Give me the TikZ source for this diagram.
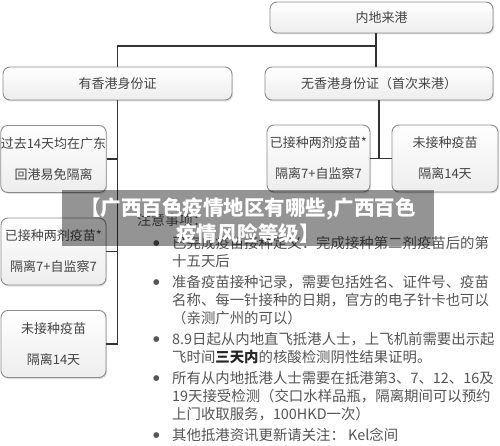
\documentclass[tikz,border=0pt]{standalone}
\usepackage{fontspec}
\usepackage{xcolor}
\usepackage{tikz}
\usetikzlibrary{positioning, shadows}
\newfontfamily\cjk{Noto Sans CJK SC}
\newfontfamily\dotfont{DejaVu Sans}
\definecolor{boxline}{HTML}{8C8C8C}
\definecolor{boxtext}{HTML}{444444}
\definecolor{notetext}{HTML}{555555}
\newcommand{\notedot}{\makebox[19pt][l]{\raisebox{3pt}{\dotfont\fontsize{7.5}{18}\selectfont ●}}}

\begin{document}
\begin{tikzpicture}[
                x=1pt, y=-1pt,
                box/.style={
                        draw=boxline,
                        line width=0.9pt,
                        rounded corners=7pt,
                        top color=white,
                        bottom color=gray!14,
                        drop shadow={shadow xshift=1pt, shadow yshift=-1.5pt, opacity=0.25},
                        text=boxtext,
                        align=center,
                        inner sep=0pt,
                        font=\cjk\fontsize{13}{31}\selectfont
                    },
                small/.style={box, minimum width=105pt, minimum height=67pt},
                link/.style={draw=black!80, line width=1.1pt}
            ]

            \fill[white] (0,0) rectangle (500,446);
            \useasboundingbox (0,0) rectangle (500,446);

            \node[box, minimum width=223pt, minimum height=31pt] (a) at (381.5,17.5) {内地来港};
            \node[box, minimum width=229pt, minimum height=33pt] (b) at (117.5,83.5) {有香港身份证};
            \node[box, minimum width=228pt, minimum height=33pt] (c) at (379,83.5) {无香港身份证（首次来港）};

            \node[small] (b1) at (53.5,159) {过去14天均在广东\\回港易免隔离};
            \node[small] (b2) at (53.5,251.5) {已接种两剂疫苗*\\隔离7+自监察7};
            \node[small] (b3) at (53.5,344) {未接种疫苗\\隔离14天};
            \node[small, minimum width=103pt] (c1) at (318.5,158.5) {已接种两剂疫苗*\\隔离7+自监察7};
            \node[small, minimum width=106pt] (c2) at (445,158.5) {未接种疫苗\\隔离14天};

            \coordinate (j) at (376,46);
            \draw[link] (a.south -| j) -- (c.north -| j);
            \draw[link] (j) -| (b.north);
            \draw[link] (b.south) -- (b.south |- b3.east) -- (b3.east);
            \draw[link] (b1.east) -- (b1.east -| b.south);
            \draw[link] (b2.east) -- (b2.east -| b.south);
            \draw[link] (c.south) -- (c.south |- c1.east);
            \draw[link] (c1.east) -- (c2.west);

            % notes
            \node[anchor=west, inner sep=0pt, text=notetext,
                font=\cjk\fontsize{14}{18}\selectfont] (n) at (137,220) {注意事项：};
            \node[anchor=north west, inner sep=0pt, text=notetext,
                font=\cjk\fontsize{14.4}{18}\selectfont] (m) at (153,236) {%
                \begin{tabular}{@{}l@{}l@{}}
                    \notedot & 已完成疫苗接种定义：完成接种第二剂疫苗后的第 \\
                             & 十五天后 \\[3pt]
                    \notedot & 准备疫苗接种记录，需要包括姓名、证件号、疫苗 \\
                             & 名称、每一针接种的日期，官方的电子针卡也可以 \\
                             & （亲测广州的可以） \\[3pt]
                    \notedot & 8.9日起从内地直飞抵港人士，上飞机前需要出示起 \\
                             & 飞时间{\color{black!85}\bfseries 三天内}的核酸检测阴性结果证明。 \\[3pt]
                    \notedot & 所有从内地抵港人士需要在抵港第3、7、12、16及 \\
                             & 19天接受检测（交口水样品瓶，隔离期间可以预约 \\
                             & 上门收取服务，100HKD一次） \\[3pt]
                    \notedot & 其他抵港资讯更新请关注： Kel念间
                \end{tabular}};

            % title banner
            \node[fill=black, fill opacity=0.42, minimum width=372pt, minimum height=55pt,
                inner sep=0pt] (t) at (248,218) {};
            \node[text=white, inner sep=0pt, align=center,
                font=\cjk\bfseries\fontsize{20.5}{26}\selectfont] (tt) at ([yshift=-3pt]t.center)
                {【广西百色疫情地区有哪些,广西百色\\疫情风险等级】};

        \end{tikzpicture}
\end{document}
